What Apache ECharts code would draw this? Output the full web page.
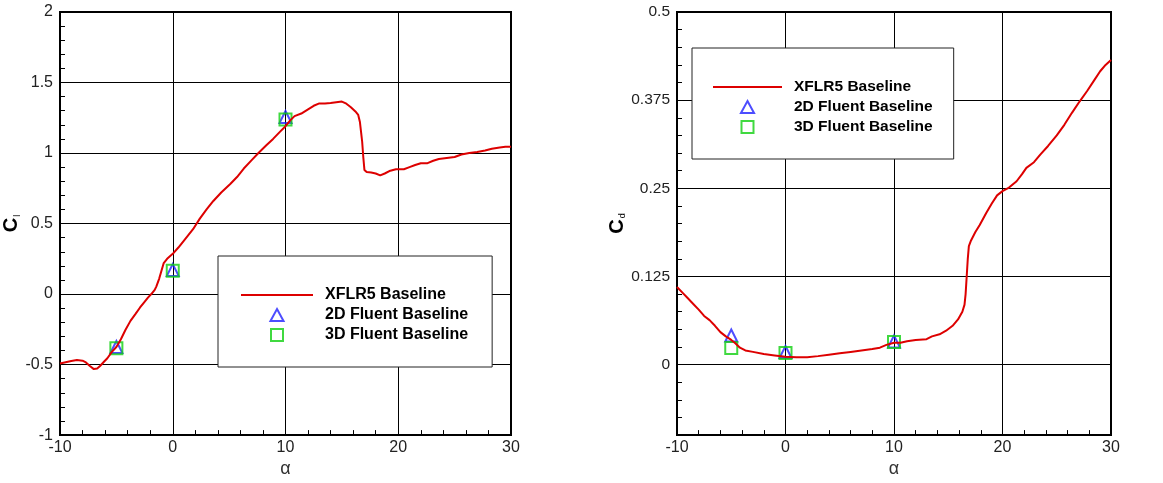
<!DOCTYPE html>
<html>
<head>
<meta charset="utf-8">
<script src="https://cdn.jsdelivr.net/npm/echarts@6/dist/echarts.min.js"></script>
<style>
html,body{margin:0;padding:0;background:#fff;}
#chart{width:1163px;height:483px;}
</style>
</head>
<body>
<div id="chart"></div>
<script>
// ---- data ----
const seriesNames = ['XFLR5 Baseline', '2D Fluent Baseline', '3D Fluent Baseline'];
const xTicks = [-10, 0, 10, 20, 30];
const clTicks = [-1, -0.5, 0, 0.5, 1, 1.5, 2];
const cdTicks = [0, 0.125, 0.25, 0.375, 0.5];

const xflr5Cl = [[-10,-0.493],[-9,-0.475],[-8.5,-0.468],[-8,-0.472],[-7.7,-0.485],[-7.35,-0.51],[-7,-0.532],[-6.7,-0.528],[-6.45,-0.51],[-6.1,-0.48],[-5.8,-0.455],[-5.4,-0.41],[-5.0,-0.375],[-4.6,-0.32],[-4.2,-0.255],[-3.75,-0.19],[-3.3,-0.14],[-2.9,-0.095],[-2.5,-0.055],[-2.2,-0.025],[-1.9,0],[-1.6,0.03],[-1.45,0.055],[-1.2,0.11],[-1.0,0.165],[-0.8,0.22],[-0.5,0.25],[0,0.285],[0.5,0.33],[1.1,0.39],[1.8,0.46],[2.4,0.535],[3.0,0.6],[3.6,0.66],[4.3,0.72],[5.1,0.78],[5.7,0.83],[6.3,0.89],[7.0,0.95],[7.6,1.0],[8.3,1.055],[8.9,1.1],[9.5,1.15],[10,1.19],[10.4,1.23],[10.8,1.262],[11.4,1.28],[12.0,1.31],[12.5,1.335],[13.0,1.352],[13.5,1.352],[14.0,1.355],[14.5,1.36],[15.0,1.365],[15.4,1.35],[15.8,1.325],[16.2,1.295],[16.45,1.27],[16.6,1.22],[16.7,1.15],[16.8,1.08],[16.9,0.97],[17.0,0.88],[17.2,0.865],[17.6,0.862],[18.0,0.855],[18.4,0.842],[18.8,0.855],[19.3,0.875],[19.8,0.885],[20.5,0.885],[21.0,0.9],[21.5,0.915],[22.0,0.928],[22.6,0.928],[23.1,0.945],[23.6,0.958],[24.3,0.965],[25.0,0.972],[25.6,0.99],[26.3,1.0],[27.0,1.008],[27.7,1.018],[28.3,1.03],[29.0,1.04],[29.5,1.045],[30,1.045]];
const fluent2DCl = [[-5,-0.375],[0,0.17],[10,1.255]];
const fluent3DCl = [[-5,-0.385],[0,0.165],[10,1.238]];

const xflr5Cd = [[-10,0.110],[-9.5,0.102],[-9,0.094],[-8.5,0.086],[-8,0.078],[-7.5,0.069],[-7,0.063],[-6.5,0.055],[-6,0.046],[-5.5,0.04],[-5,0.035],[-4.6,0.03],[-4.2,0.024],[-3.7,0.02],[-3,0.018],[-2,0.015],[-1,0.013],[0,0.011],[1,0.0105],[2,0.0105],[3,0.012],[4,0.014],[5,0.016],[6,0.018],[7,0.02],[8,0.022],[8.7,0.024],[9.3,0.028],[10,0.031],[10.6,0.031],[11.2,0.033],[12,0.035],[13,0.036],[13.5,0.04],[14.2,0.043],[14.8,0.048],[15.4,0.055],[15.9,0.064],[16.3,0.075],[16.5,0.085],[16.6,0.1],[16.7,0.125],[16.8,0.15],[16.9,0.168],[17.1,0.176],[17.5,0.188],[17.9,0.198],[18.5,0.215],[19.0,0.228],[19.5,0.24],[20,0.246],[20.6,0.251],[21.3,0.26],[21.8,0.27],[22.2,0.279],[22.9,0.287],[23.5,0.298],[24.2,0.31],[25.0,0.325],[25.7,0.34],[26.4,0.357],[27.1,0.373],[27.8,0.388],[28.4,0.402],[29.0,0.416],[29.5,0.425],[30,0.432]];
const fluent2DCd = [[-5,0.0413],[0,0.0178],[10,0.0328]];
const fluent3DCd = [[-5,0.0235],[0,0.0164],[10,0.0319]];

// ---- styling helpers ----
const FONT = 'Liberation Sans, Arial, sans-serif';
const RED = '#dd0000', BLUE = '#2020ff', GREEN = '#10d010';

function xAxisDef(gridIndex){
  return {
    gridIndex, type:'value', min:-10, max:30, interval:10,
    axisLine:{show:true, onZero:false, lineStyle:{color:'#000', width:2}},
    axisTick:{show:true, inside:true, length:10, lineStyle:{color:'#000', width:1}},
    minorTick:{show:true, splitNumber:5, length:5, lineStyle:{color:'#000', width:1}},
    splitLine:{show:true, lineStyle:{color:'#000', width:1}},
    axisLabel:{color:'#222', fontSize:16, fontFamily:FONT, margin:4, customValues: xTicks},
    name:'α', nameLocation:'middle', nameGap:22,
    nameTextStyle:{color:'#333', fontSize:18, fontFamily:FONT}
  };
}
function yName(sub){
  return {
    name:'{c|C}{s|' + sub + '}', nameLocation:'middle', nameRotate:90, nameGap:30,
    nameTextStyle:{rich:{
      c:{fontSize:20, fontWeight:'bold', fontFamily:FONT, color:'#000'},
      s:{fontSize:9, fontFamily:FONT, color:'#000', verticalAlign:'bottom', padding:[0,0,0,1]}
    }}
  };
}
function legendDef(left, top, itemWidth, padding, fontSize){
  return {
    data: [
      {name: seriesNames[0], icon: 'path://M0,0H72V2H0Z'},
      {name: seriesNames[1], icon: 'path://M6,0L12,11L0,11Z',
        itemStyle:{color:'rgba(0,0,0,0)', borderColor:BLUE, borderWidth:2}},
      {name: seriesNames[2], icon: 'path://M0,0H12V12H0Z',
        itemStyle:{color:'rgba(0,0,0,0)', borderColor:GREEN, borderWidth:2}}
    ],
    orient:'vertical', left, top, padding,
    itemGap:4, itemWidth, itemHeight:12, symbolKeepAspect:true,
    backgroundColor:'#fff', borderColor:'#222', borderWidth:1,
    selectedMode:false,
    textStyle:{fontFamily:FONT, fontSize, fontWeight:'bold', color:'#000', padding:[0,0,0,7]}
  };
}
function lineSeries(xi, yi, data){
  return {name:seriesNames[0], type:'line', xAxisIndex:xi, yAxisIndex:yi, data,
    symbol:'none', showSymbol:false, lineStyle:{color:RED, width:2}, itemStyle:{color:RED}, animation:false};
}
function markSeries(name, symbol, color, xi, yi, data){
  return {name, type:'scatter', xAxisIndex:xi, yAxisIndex:yi, data, symbol, symbolSize:12,
    itemStyle:{color:'rgba(0,0,0,0)', borderColor:color, borderWidth:2}, animation:false};
}

const yLeft = Object.assign({
  gridIndex:0, type:'value', min:-1, max:2, interval:0.5,
  axisLine:{show:true, onZero:false, lineStyle:{color:'#000', width:2}},
  axisTick:{show:true, inside:true, length:10, lineStyle:{color:'#000', width:1}},
  minorTick:{show:true, splitNumber:5, length:5, lineStyle:{color:'#000', width:1}},
  splitLine:{show:true, lineStyle:{color:'#000', width:1}},
  axisLabel:{color:'#222', fontSize:16, fontFamily:FONT, margin:7, customValues: clTicks}
}, yName('l'));

const yRightMain = Object.assign({
  gridIndex:1, type:'value', min:-0.1, max:0.5,
  axisLine:{show:true, onZero:false, lineStyle:{color:'#000', width:2}},
  axisTick:{show:true, inside:true, length:10, customValues: cdTicks, lineStyle:{color:'#000', width:1}},
  splitLine:{show:true, lineStyle:{color:'#000', width:1}},
  axisLabel:{color:'#222', fontSize:15.5, fontFamily:FONT, margin:7, customValues: cdTicks}
}, yName('d'));

const yRightMinor = {
  gridIndex:1, type:'value', min:-0.1, max:0.5, interval:0.025, position:'left', offset:0,
  axisLine:{show:false, onZero:false},
  axisTick:{show:true, inside:true, length:5, lineStyle:{color:'#000', width:1}},
  splitLine:{show:false}, axisLabel:{show:false}
};

const chart = echarts.init(document.getElementById('chart'), null, {renderer:'canvas'});
chart.setOption({
  backgroundColor:'#fff',
  animation:false,
  grid:[
    {left:60, top:12, width:451, height:426, show:true, borderColor:'#000', borderWidth:2, backgroundColor:'transparent'},
    {left:677, top:12, width:434, height:425, show:true, borderColor:'#000', borderWidth:2, backgroundColor:'transparent'}
  ],
  xAxis:[xAxisDef(0), xAxisDef(1)],
  yAxis:[yLeft, yRightMain, yRightMinor],
  legend:[
    legendDef(218, 256, 72, [31,24,24,23], 16),
    legendDef(692, 48, 69, [31,21,24,21], 15.5)
  ],
  series:[
    lineSeries(0,0,xflr5Cl),
    markSeries(seriesNames[1],'triangle',BLUE,0,0,fluent2DCl),
    markSeries(seriesNames[2],'rect',GREEN,0,0,fluent3DCl),
    lineSeries(1,1,xflr5Cd),
    markSeries(seriesNames[1],'triangle',BLUE,1,1,fluent2DCd),
    markSeries(seriesNames[2],'rect',GREEN,1,1,fluent3DCd)
  ]
});
</script>
</body>
</html>
